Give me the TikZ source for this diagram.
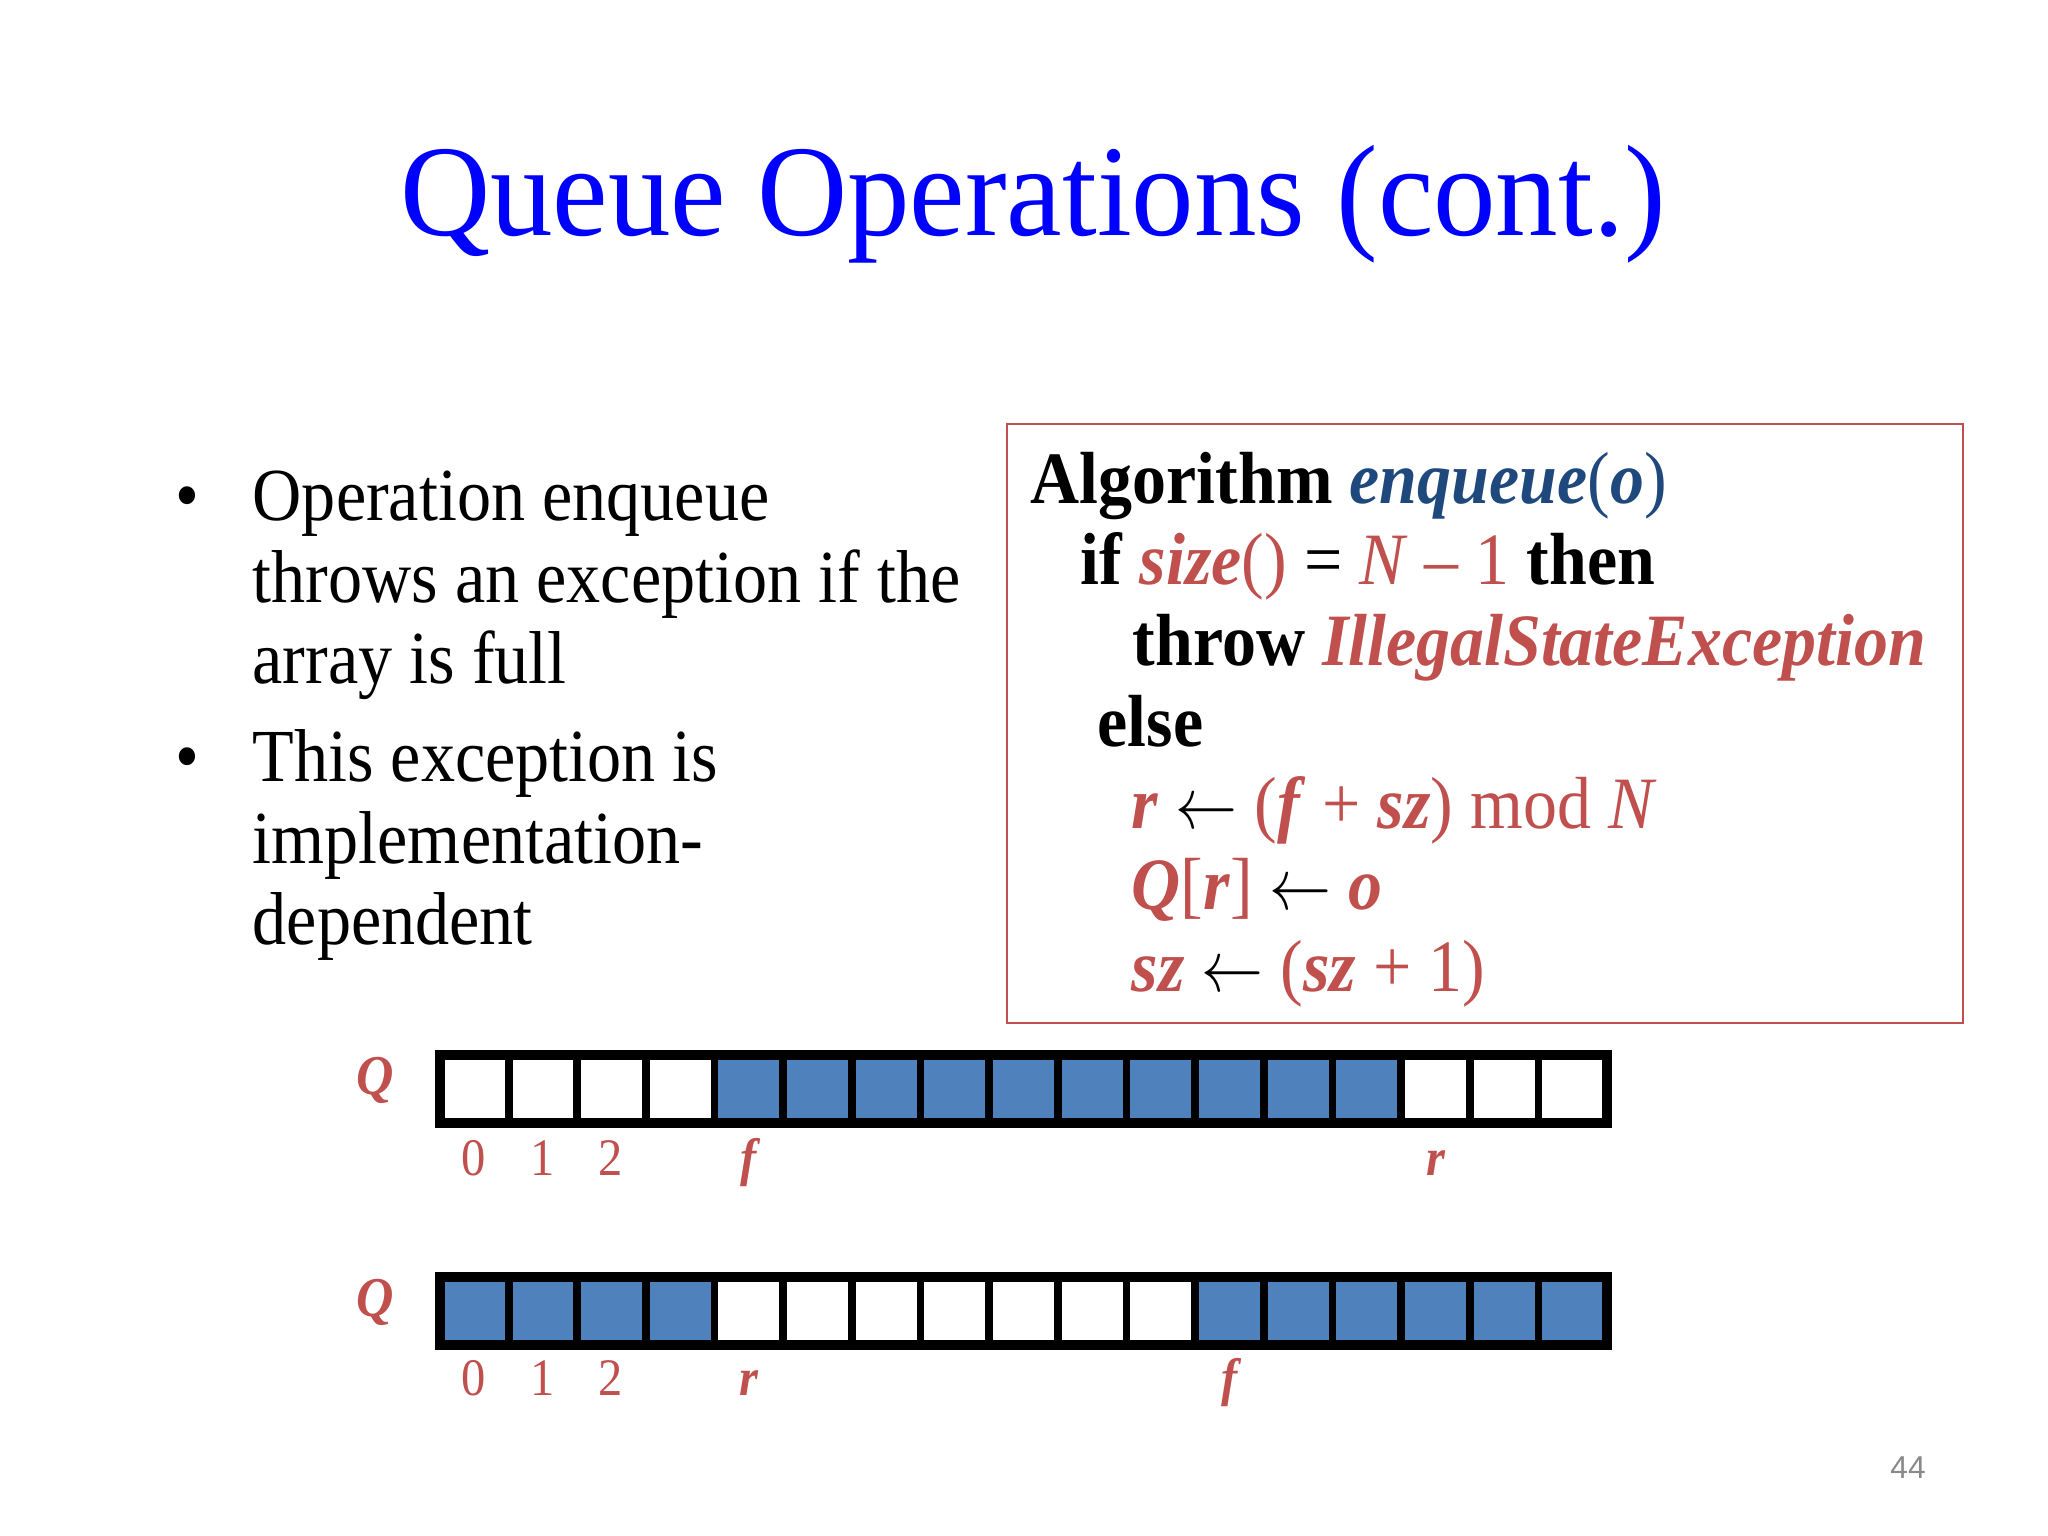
\documentclass[tikz,border=0pt]{standalone}
\usepackage{fontspec}
\setmainfont{Liberation Serif}
\newfontfamily\titlefont{Liberation Serif}[FakeStretch=0.96]
\newfontfamily\bodyfont{Liberation Serif}[FakeStretch=0.91]
\newfontfamily\algfont{Liberation Serif}[FakeStretch=0.92]
\newfontfamily\pgnum{Liberation Sans}
\definecolor{titleblue}{RGB}{0,0,255}
\definecolor{algred}{RGB}{192,80,77}
\definecolor{algblue}{RGB}{31,73,125}
\definecolor{cellblue}{RGB}{79,129,189}
\definecolor{pggray}{RGB}{137,137,137}
\tikzset{
  txt/.style={inner sep=0pt, anchor=base west},
  titletxt/.style={inner sep=0pt, anchor=base, text=titleblue, font=\titlefont\fontsize{37}{44}\selectfont},
  bullettxt/.style={txt, font=\bodyfont\fontsize{21.3}{26}\selectfont},
  algtxt/.style={txt, font=\algfont\fontsize{21}{26}\selectfont},
  algbox/.style={draw=algred, line width=0.6pt},
  cellw/.style={draw=black, line width=2.2pt, fill=white},
  cellb/.style={draw=black, line width=2.2pt, fill=cellblue},
  qlabel/.style={inner sep=0pt, anchor=base, text=algred, font=\algfont\fontsize{16}{18}\selectfont\bfseries\itshape},
  idxlabel/.style={inner sep=0pt, anchor=base, text=algred, font=\algfont\fontsize{15}{18}\selectfont},
  ptrlabel/.style={inner sep=0pt, anchor=base, text=algred, font=\algfont\fontsize{15}{18}\selectfont\bfseries\itshape},
}
\newcommand{\rd}[1]{\textcolor{algred}{#1}}
\newcommand{\bl}[1]{\textcolor{algblue}{#1}}
\newcommand{\bi}[1]{\textbf{\textit{#1}}}
\newcommand{\larr}{\scalebox{0.85}[1]{$\leftarrow$}}
\begin{document}
\begin{tikzpicture}[x=0.01cm,y=-0.01cm]
\useasboundingbox (0,0) rectangle (2048,1536);
% title
\node[titletxt] (title) at (1033,235) {Queue Operations (cont.)};
% bullets
\node[bullettxt, anchor=base] (b1) at (187,520) {•};
\node[bullettxt] (l1) at (252,520) {Operation enqueue};
\node[bullettxt] (l2) at (252,602) {throws an exception if the};
\node[bullettxt] (l3) at (252,683) {array is full};
\node[bullettxt, anchor=base] (b2) at (187,781) {•};
\node[bullettxt] (l4) at (252,781) {This exception is};
\node[bullettxt] (l5) at (252,863) {implementation-};
\node[bullettxt] (l6) at (252,944) {dependent};
% algorithm box
\draw[algbox] (1007,424) rectangle (1963,1023);
\node[algtxt] (a1) at (1030,503) {\textbf{Algorithm} \bl{\bi{enqueue}(\bi{o})}};
\node[algtxt] (a2) at (1080,584) {\textbf{if} \rd{\bi{size}()} = \rd{\textit{N} – 1} \textbf{then}};
\node[algtxt] (a3) at (1132,665) {\textbf{throw} \rd{\bi{IllegalStateException}}};
\node[algtxt] (a4) at (1097,746) {\textbf{else}};
\node[algtxt] (a5) at (1131,828) {\rd{\bi{r}} \larr{} \rd{(\bi{f} + \bi{sz}) mod \textit{N}}};
\node[algtxt] (a6) at (1131,909) {\rd{\bi{Q}[\bi{r}]} \larr{} \rd{\bi{o}}};
\node[algtxt] (a7) at (1131,991) {\rd{\bi{sz}} \larr{} \rd{(\bi{sz} + 1)}};
% arrays
\foreach \i in {0,...,16} {
  \pgfmathsetmacro{\xa}{440+\i*68.65}
  \pgfmathsetmacro{\xb}{440+(\i+1)*68.65}
  \ifnum\i<4 \def\stA{cellw}\else\ifnum\i<14 \def\stA{cellb}\else\def\stA{cellw}\fi\fi
  \ifnum\i<4 \def\stB{cellb}\else\ifnum\i<11 \def\stB{cellw}\else\def\stB{cellb}\fi\fi
  \draw[\stA] (\xa,1055) rectangle (\xb,1123);
  \draw[\stB] (\xa,1277) rectangle (\xb,1345);
}
\draw[line width=2.8pt] (440,1055) rectangle (1607,1123);
\draw[line width=2.8pt] (440,1277) rectangle (1607,1345);
% labels array 1
\node[qlabel] (q1) at (375,1094) {Q};
\node[idxlabel] (i10) at (474,1175) {0};
\node[idxlabel] (i11) at (543,1175) {1};
\node[idxlabel] (i12) at (611,1175) {2};
\node[ptrlabel] (f1) at (749,1175) {f};
\node[ptrlabel] (r1) at (1436,1175) {r};
% labels array 2
\node[qlabel] (q2) at (375,1316) {Q};
\node[idxlabel] (i20) at (474,1395) {0};
\node[idxlabel] (i21) at (543,1395) {1};
\node[idxlabel] (i22) at (611,1395) {2};
\node[ptrlabel] (r2) at (749,1395) {r};
\node[ptrlabel] (f2) at (1230,1395) {f};
% page number
\node[inner sep=0pt, anchor=base, text=pggray, font=\pgnum\fontsize{9}{11}\selectfont] (pg) at (1908,1478) {44};
\end{tikzpicture}
\end{document}
